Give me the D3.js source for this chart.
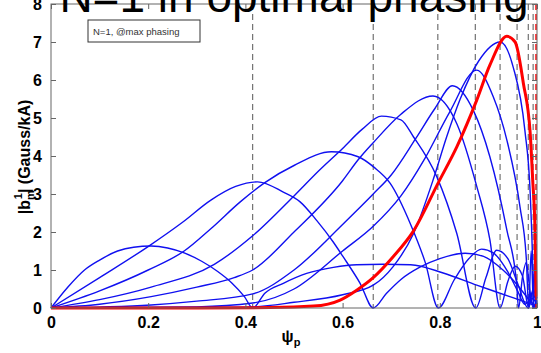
<!DOCTYPE html>
<html>
<head>
<meta charset="utf-8">
<script src="https://cdn.jsdelivr.net/npm/d3@7"></script>
<style>
  body { margin: 0; background: #fff; }
  svg { display: block; }
  text { font-family: "Liberation Sans", Arial, sans-serif; }
</style>
</head>
<body>
<div id="chart"></div>
<script>
// ticks
const psiTicks = [0, 0.2, 0.4, 0.6, 0.8, 1];
const psiLabels = ["0", "0.2", "0.4", "0.6", "0.8", "1"];
const bTicks = [0, 1, 2, 3, 4, 5, 6, 7, 8];

// rational surfaces (dashed) and the red one
const qSurfaces = [0.415, 0.663, 0.796, 0.873, 0.924, 0.959, 0.982, 0.992];
const redSurface = 0.998;

// |b_m^1| harmonics, [psi, value]
const m1 = [[0,0],[0.034,0.54],[0.069,1.0],[0.10,1.26],[0.137,1.50],[0.17,1.60],[0.206,1.63],[0.24,1.58],[0.274,1.45],[0.31,1.23],[0.343,0.96],[0.372,0.66],[0.398,0.30],[0.415,0],[0.44,0.39],[0.478,0.65],[0.526,0.91],[0.581,1.07],[0.629,1.14],[0.683,1.15],[0.74,1.14],[0.807,0.92],[0.876,0.60],[0.944,0.30],[0.992,0.08],[1,0.03]];
const m2 = [[0,0],[0.1,0.8],[0.199,1.61],[0.27,2.25],[0.329,2.84],[0.38,3.2],[0.425,3.32],[0.478,3.05],[0.512,2.8],[0.547,2.3],[0.58,1.75],[0.601,1.35],[0.636,0.65],[0.663,0],[0.69,0.38],[0.72,0.75],[0.76,1.08],[0.80,1.3],[0.852,1.44],[0.89,1.36],[0.93,1.0],[0.96,0.6],[0.985,0.2],[1,0.02]];
const m3 = [[0,0],[0.1,0.45],[0.2,1.0],[0.274,1.5],[0.33,2.1],[0.39,2.8],[0.44,3.3],[0.5,3.75],[0.577,4.11],[0.632,3.98],[0.665,3.7],[0.698,3.28],[0.74,2.2],[0.77,1.2],[0.797,0],[0.83,0.75],[0.86,1.3],[0.886,1.55],[0.91,1.45],[0.94,0.95],[0.96,0.45],[0.975,0.1],[0.99,0.25],[1,0.1]];
const m4 = [[0,0],[0.1,0.22],[0.206,0.55],[0.336,1.15],[0.415,1.9],[0.5,2.95],[0.55,3.6],[0.6,4.2],[0.64,4.7],[0.68,5.05],[0.72,4.95],[0.746,4.5],[0.794,3.45],[0.835,1.96],[0.874,0],[0.895,0.8],[0.917,1.52],[0.94,1.3],[0.96,0.65],[0.982,0],[0.99,0.4],[1,0.1]];
const m5 = [[0,0],[0.1,0.1],[0.206,0.3],[0.3,0.55],[0.377,0.8],[0.415,1.0],[0.5,2.0],[0.6,3.35],[0.632,3.9],[0.663,4.35],[0.72,5.1],[0.786,5.58],[0.835,4.85],[0.876,3.2],[0.903,1.8],[0.924,0],[0.94,0.7],[0.955,1.1],[0.97,0.85],[0.983,0],[0.992,0.5],[1,0.1]];
const m6 = [[0,0],[0.206,0.08],[0.3,0.18],[0.415,0.37],[0.5,1.0],[0.6,2.2],[0.663,3.0],[0.70,3.5],[0.75,4.45],[0.79,5.25],[0.826,5.85],[0.869,5.2],[0.903,3.98],[0.938,2.05],[0.958,0.65],[0.962,0],[0.97,0.8],[0.978,1.2],[0.985,0.5],[0.992,0],[1,0.3]];
const m7 = [[0,0],[0.3,0.03],[0.415,0.13],[0.5,0.5],[0.6,1.5],[0.663,2.15],[0.72,2.95],[0.77,3.95],[0.82,5.15],[0.876,6.26],[0.91,5.56],[0.938,4.42],[0.965,2.66],[0.978,1.3],[0.983,0],[0.988,1.5],[0.993,0],[1,0.2]];
const m8 = [[0,0],[0.4,0.02],[0.5,0.15],[0.6,0.35],[0.663,0.6],[0.704,1.09],[0.746,1.96],[0.787,3.4],[0.814,4.5],[0.842,5.5],[0.88,6.5],[0.924,7.0],[0.951,6.34],[0.975,4.68],[0.986,3.02],[0.991,1.2],[0.993,0],[0.996,1.5],[0.998,0]];
const blueCurves = [m1, m2, m3, m4, m5, m6, m7, m8];
const redCurve = [[0,0],[0.3,0],[0.45,0.01],[0.54,0.05],[0.595,0.21],[0.629,0.47],[0.663,0.8],[0.704,1.35],[0.746,2.03],[0.797,3.3],[0.835,4.24],[0.876,5.47],[0.903,6.39],[0.938,7.15],[0.955,7.0],[0.972,5.91],[0.986,4.6],[0.991,3.4],[0.996,2.0],[0.998,0.3]];

const W = 541, H = 353;
const pL = 51, pR = 537, pT = 4, pB = 308;

const svg = d3.select("#chart").append("svg")
    .attr("width", W)
    .attr("height", H);

const x = d3.scaleLinear().domain([0, 1]).range([pL, pR]);
const y = d3.scaleLinear().domain([0, 8]).range([pB, pT]);

// dashed rational surfaces
svg.selectAll("line.q")
    .data(qSurfaces)
    .enter().append("line")
    .attr("class", "q")
    .attr("x1", d => x(d)).attr("x2", d => x(d))
    .attr("y1", pT).attr("y2", pB)
    .attr("stroke", "#555")
    .attr("stroke-width", 1)
    .attr("stroke-dasharray", "6,4");

const line = d3.line()
    .x(d => x(d[0]))
    .y(d => y(d[1]))
    .curve(d3.curveMonotoneX);

// blue harmonics
svg.selectAll("path.m")
    .data(blueCurves)
    .enter().append("path")
    .attr("class", "m")
    .attr("d", line)
    .attr("fill", "none")
    .attr("stroke", "#1010f0")
    .attr("stroke-width", 1.4);

// red harmonic
svg.append("path")
    .attr("d", line(redCurve))
    .attr("fill", "none")
    .attr("stroke", "#ff0000")
    .attr("stroke-width", 3);

svg.append("line")
    .attr("x1", x(redSurface)).attr("x2", x(redSurface))
    .attr("y1", pT).attr("y2", pB)
    .attr("stroke", "#ff0000")
    .attr("stroke-width", 1.5)
    .attr("stroke-dasharray", "6,4");

// axes, MATLAB style box with inward ticks
const axisColor = "#666";
svg.append("rect")
    .attr("x", pL).attr("y", pT)
    .attr("width", pR - pL).attr("height", pB - pT)
    .attr("fill", "none")
    .attr("stroke", axisColor);

const xb = svg.append("g")
    .attr("transform", `translate(0,${pB})`)
    .call(d3.axisBottom(x).tickValues(psiTicks).tickSize(-5).tickPadding(9)
        .tickFormat((d, i) => psiLabels[i]));
const xt = svg.append("g")
    .attr("transform", `translate(0,${pT})`)
    .call(d3.axisTop(x).tickValues(psiTicks).tickSize(-5).tickFormat(""));
const yl = svg.append("g")
    .attr("transform", `translate(${pL},0)`)
    .call(d3.axisLeft(y).tickValues(bTicks).tickSize(-5).tickPadding(9));
const yr = svg.append("g")
    .attr("transform", `translate(${pR},0)`)
    .call(d3.axisRight(y).tickValues(bTicks).tickSize(-5).tickFormat(""));

[xb, xt, yl, yr].forEach(g => {
    g.select(".domain").remove();
    g.selectAll(".tick line").attr("stroke", axisColor);
    g.selectAll("text")
        .attr("fill", "#000")
        .style("font-family", "'Liberation Sans', Arial, sans-serif")
        .style("font-size", "16px")
        .style("font-weight", "bold");
});

// axis labels
const yLab = svg.append("text")
    .attr("transform", "translate(30,157) rotate(-90)")
    .attr("text-anchor", "middle")
    .style("font-size", "16px")
    .style("font-weight", "bold");
yLab.append("tspan").text("|b");
yLab.append("tspan").attr("dy", 4).style("font-size", "11px").text("m");
yLab.append("tspan").attr("dx", -9).attr("dy", -12).style("font-size", "11px").text("1");
yLab.append("tspan").attr("dy", 8).text("| (Gauss/kA)");

const xLab = svg.append("text")
    .attr("x", 291).attr("y", 342)
    .attr("text-anchor", "middle")
    .style("font-size", "16px")
    .style("font-weight", "bold");
xLab.append("tspan").text("ψ");
xLab.append("tspan").attr("dy", 4).style("font-size", "11px").text("p");

// legend box
svg.append("rect")
    .attr("x", 88).attr("y", 20)
    .attr("width", 112).attr("height", 22)
    .attr("fill", "#fff")
    .attr("stroke", "#333");
svg.append("text")
    .attr("x", 93).attr("y", 34.5)
    .attr("fill", "#333")
    .style("font-size", "9.5px")
    .text("N=1, @max phasing");

// title (cut off by the top of the figure)
svg.append("text")
    .attr("x", (pL + pR) / 2).attr("y", 12)
    .attr("text-anchor", "middle")
    .style("font-size", "46px")
    .text("N=1 in optimal phasing");
</script>
</body>
</html>
